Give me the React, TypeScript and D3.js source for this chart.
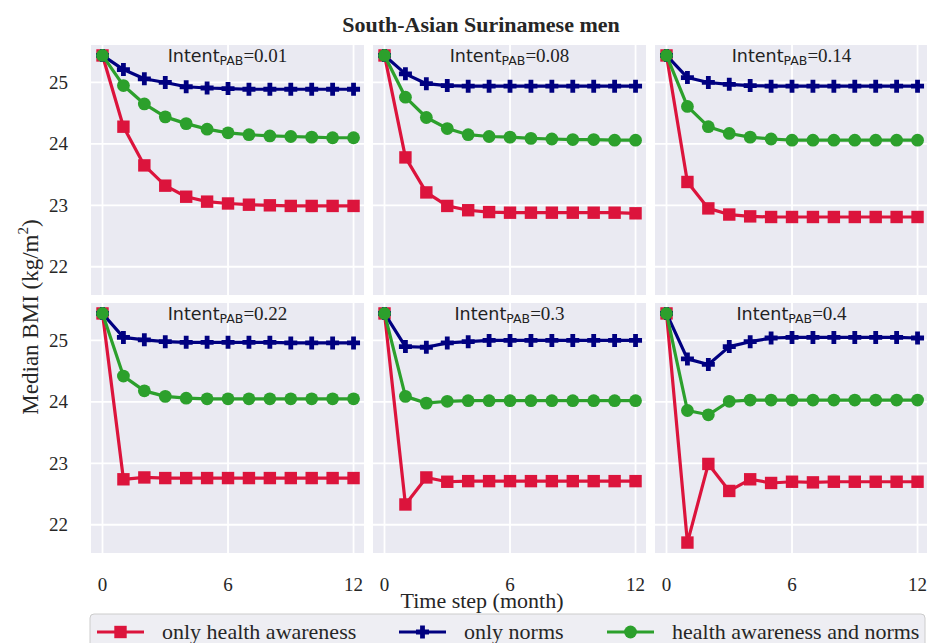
import React from "react";
import * as d3 from "d3";

const timeSteps = [0, 1, 2, 3, 4, 5, 6, 7, 8, 9, 10, 11, 12];
const intentLabels = ["0.01", "0.08", "0.14", "0.22", "0.3", "0.4"];
const xTicks = [0, 6, 12];
const yTicks = [22, 23, 24, 25];

const onlyHealthAwareness = [
  [25.44, 24.28, 23.65, 23.32, 23.14, 23.06, 23.03, 23.01, 23.0, 22.99, 22.99, 22.99, 22.99],
  [25.44, 23.78, 23.21, 22.99, 22.92, 22.89, 22.88, 22.88, 22.88, 22.88, 22.88, 22.88, 22.87],
  [25.44, 23.38, 22.95, 22.85, 22.82, 22.81, 22.81, 22.81, 22.81, 22.81, 22.81, 22.81, 22.81],
  [25.44, 22.74, 22.77, 22.76, 22.76, 22.76, 22.76, 22.76, 22.76, 22.76, 22.76, 22.76, 22.76],
  [25.44, 22.33, 22.77, 22.7, 22.71, 22.71, 22.71, 22.71, 22.71, 22.71, 22.71, 22.71, 22.71],
  [25.44, 21.71, 22.99, 22.55, 22.74, 22.68, 22.7, 22.69, 22.7, 22.7, 22.7, 22.7, 22.7],
];
const onlyNorms = [
  [25.44, 25.21, 25.06, 25.0, 24.93, 24.91, 24.9, 24.89, 24.89, 24.89, 24.89, 24.89, 24.89],
  [25.44, 25.14, 24.98, 24.95, 24.94, 24.94, 24.94, 24.94, 24.94, 24.94, 24.94, 24.94, 24.94],
  [25.44, 25.08, 25.0, 24.97, 24.95, 24.94, 24.94, 24.94, 24.94, 24.94, 24.94, 24.94, 24.94],
  [25.44, 25.05, 25.01, 24.98, 24.97, 24.97, 24.97, 24.97, 24.97, 24.96, 24.96, 24.96, 24.96],
  [25.44, 24.9, 24.89, 24.96, 24.98, 25.0, 25.0, 25.0, 25.0, 25.0, 25.0, 25.0, 25.0],
  [25.44, 24.7, 24.61, 24.9, 24.98, 25.04, 25.05, 25.05, 25.05, 25.05, 25.05, 25.05, 25.04],
];
const awarenessAndNorms = [
  [25.44, 24.95, 24.65, 24.44, 24.33, 24.24, 24.18, 24.15, 24.13, 24.12, 24.11, 24.1, 24.1],
  [25.44, 24.76, 24.43, 24.25, 24.15, 24.12, 24.11, 24.09, 24.08, 24.07, 24.07, 24.06, 24.06],
  [25.44, 24.61, 24.28, 24.17, 24.11, 24.08, 24.06, 24.06, 24.06, 24.06, 24.06, 24.06, 24.06],
  [25.44, 24.42, 24.18, 24.09, 24.06, 24.05, 24.05, 24.05, 24.05, 24.05, 24.05, 24.05, 24.05],
  [25.44, 24.09, 23.98, 24.01, 24.02, 24.02, 24.02, 24.02, 24.02, 24.02, 24.02, 24.02, 24.02],
  [25.44, 23.86, 23.79, 24.01, 24.03, 24.03, 24.03, 24.03, 24.03, 24.03, 24.03, 24.03, 24.03],
];

const seriesNames = ["only health awareness", "only norms", "health awareness and norms"];
const seriesColors = ["#DC143C", "#000080", "#2CA02C"];

const W = 927;
const H = 643;
const colX = [91, 373, 655];
const rowY = [45, 303];
const PW = 273;
const PH = 250;
const SERIF = "'Liberation Serif', 'Times New Roman', serif";
const SANS = "'DejaVu Sans', sans-serif";

const x = d3.scaleLinear().domain([-0.55, 12.5]).range([0, PW]);
const y = d3.scaleLinear().domain([21.54, 25.61]).range([PH, 0]);

function Marker({ kind, cx, cy, color }: { kind: number; cx: number; cy: number; color: string }) {
  if (kind === 0) {
    const s = 6.2;
    return <rect x={cx - s} y={cy - s} width={2 * s} height={2 * s} fill={color} />;
  }
  if (kind === 1) {
    const a = 6.5;
    const t = 2.4;
    const p = `M${cx - t},${cy - a}H${cx + t}V${cy - t}H${cx + a}V${cy + t}H${cx + t}V${cy + a}H${cx - t}V${cy + t}H${cx - a}V${cy - t}H${cx - t}Z`;
    return <path d={p} fill={color} />;
  }
  return <circle cx={cx} cy={cy} r={6.4} fill={color} />;
}

function Panel({ idx }: { idx: number }) {
  const col = idx % 3;
  const row = Math.floor(idx / 3);
  const ox = colX[col];
  const oy = rowY[row];
  const data = [onlyHealthAwareness[idx], onlyNorms[idx], awarenessAndNorms[idx]];
  const line = d3
    .line<number>()
    .x((_, i) => x(timeSteps[i]))
    .y((d) => y(d));
  return (
    <g transform={`translate(${ox},${oy})`}>
      <rect x={0} y={0} width={PW} height={PH} fill="#EAEAF2" />
      {yTicks.map((t) => (
        <line key={"y" + t} x1={0} x2={PW} y1={y(t)} y2={y(t)} stroke="#fff" strokeWidth={1.8} />
      ))}
      {xTicks.map((t) => (
        <line key={"x" + t} x1={x(t)} x2={x(t)} y1={0} y2={PH} stroke="#fff" strokeWidth={1.8} />
      ))}
      {data.map((vals, s) => (
        <g key={s}>
          <path d={line(vals) || ""} fill="none" stroke={seriesColors[s]} strokeWidth={3.2} strokeLinejoin="round" />
          {vals.map((v, i) => (
            <Marker key={i} kind={s} cx={x(timeSteps[i])} cy={y(v)} color={seriesColors[s]} />
          ))}
        </g>
      ))}
      <text x={PW / 2} y={17} textAnchor="middle" fontSize={17.5} fill="#222">
        <tspan fontFamily={SANS}>Intent</tspan>
        <tspan fontFamily={SANS} fontSize={12.5} dy={3}>PAB</tspan>
        <tspan fontFamily={SERIF} fontSize={19} dy={-3}>={intentLabels[idx]}</tspan>
      </text>
      {col === 0 &&
        yTicks.map((t) => (
          <text key={"yl" + t} x={-23} y={y(t) + 6.5} textAnchor="end" fontFamily={SERIF} fontSize={19} fill="#262626">
            {t}
          </text>
        ))}
      {row === 1 &&
        xTicks.map((t) => (
          <text key={"xl" + t} x={x(t)} y={PH + 38} textAnchor="middle" fontFamily={SERIF} fontSize={19} fill="#262626">
            {t}
          </text>
        ))}
    </g>
  );
}

export default function App() {
  const legendX = [97, 399, 607];
  return (
    <svg width={W} height={H} style={{ position: "absolute", left: 0, top: 0, background: "#fff" }}>
      <rect x={0} y={0} width={W} height={H} fill="#fff" />
      <text x={481} y={32} textAnchor="middle" fontFamily={SERIF} fontWeight="bold" fontSize={22} fill="#262626">
        South-Asian Surinamese men
      </text>
      {intentLabels.map((_, i) => (
        <Panel key={i} idx={i} />
      ))}
      <text
        transform="translate(38,317) rotate(-90)"
        textAnchor="middle"
        fontFamily={SERIF}
        fontSize={23}
        fill="#262626"
      >
        Median BMI (kg/m<tspan fontSize={15} dy={-10}>2</tspan>
        <tspan dy={10}>)</tspan>
      </text>
      <text x={482} y={608} textAnchor="middle" fontFamily={SERIF} fontSize={22} fill="#262626">
        Time step (month)
      </text>
      <rect x={90} y={614} width={835} height={40} rx={4} fill="#EEEEF3" stroke="#CCCCCC" strokeWidth={1} />
      {seriesNames.map((n, s) => (
        <g key={n}>
          <line x1={legendX[s]} x2={legendX[s] + 47} y1={632} y2={632} stroke={seriesColors[s]} strokeWidth={3.2} />
          <Marker kind={s} cx={legendX[s] + 23.5} cy={632} color={seriesColors[s]} />
          <text x={legendX[s] + 65} y={639} fontFamily={SERIF} fontSize={22} fill="#262626">
            {n}
          </text>
        </g>
      ))}
    </svg>
  );
}
